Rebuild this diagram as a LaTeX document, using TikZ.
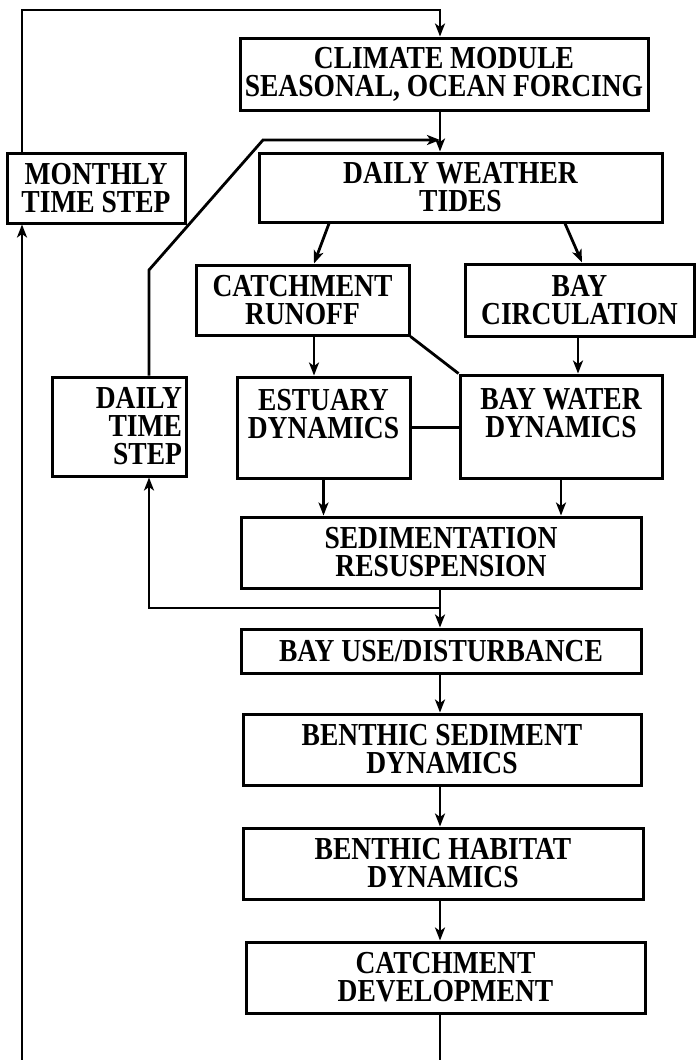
\documentclass[tikz,border=0pt]{standalone}
\usepackage{fontspec}
\setmainfont{Liberation Serif}[FakeStretch=0.86]
\usetikzlibrary{arrows.meta,calc,positioning}
\tikzset{feed/.style={-{Stealth[length=13pt,width=10pt,inset=3.5pt]}, line width=2.8pt},
  link/.style={line width=2.8pt},
  blk/.style={draw, line width=3pt, font=\fontsize{32}{28}\selectfont\bfseries, align=center, inner sep=1pt}}

\begin{document}
\begin{tikzpicture}[x=1pt, y=-1pt]
  \useasboundingbox (0,0) rectangle (698,1060);
  % loop corners
  \coordinate (ltop) at (22,10);
  \coordinate (rtop) at (440,10);
  \coordinate (lbot) at (22,1060);
  \coordinate (rbot) at (440,1060);
  \coordinate (dbend) at (149,270);
  \coordinate (dtop) at (263,140);
  \coordinate (jn) at (440,608);
  % top rows
  \node[blk, minimum width=408pt, minimum height=72pt] (clim) at (444,74) {CLIMATE MODULE\\SEASONAL, OCEAN FORCING};
  \node[blk, minimum width=403pt, minimum height=69pt] (dwx) at (460.5,187.5) {DAILY WEATHER\\TIDES};
  \node[blk, minimum width=178pt, minimum height=70pt] (month) at (96,188) {MONTHLY\\TIME STEP};
  \node[blk, minimum width=213pt, minimum height=70pt] (runoff) at (302.5,300) {CATCHMENT\\RUNOFF};
  \node[blk, minimum width=229pt, minimum height=72pt] (baycirc) at (579.5,300) {BAY\\CIRCULATION};
  % middle row
  \node[blk, align=right, text width=126pt, minimum width=134pt, minimum height=99pt] (tstep) at (119,426.5) {DAILY\\TIME\\STEP};
  \node[blk, minimum width=173pt, minimum height=101pt] (estuary) at (323.5,427.5) {ESTUARY\\DYNAMICS\\\mbox{}};
  \node[blk, minimum width=202pt, minimum height=103pt] (baywater) at (561,426.5) {BAY WATER\\DYNAMICS\\\mbox{}};
  % lower column
  \node[blk, minimum width=400pt, minimum height=71pt] (sedim) at (441,552.5) {SEDIMENTATION\\RESUSPENSION};
  \node[blk, minimum width=400pt, minimum height=44pt] (bayuse) at (441,651) {BAY USE/DISTURBANCE};
  \node[blk, minimum width=398pt, minimum height=71pt] (bsed) at (442,749.5) {BENTHIC SEDIMENT\\DYNAMICS};
  \node[blk, minimum width=400pt, minimum height=71pt] (bhab) at (443,863.5) {BENTHIC HABITAT\\DYNAMICS};
  \node[blk, minimum width=399pt, minimum height=71pt] (cdev) at (445.5,977.5) {CATCHMENT\\DEVELOPMENT};
  % monthly loop
  \draw[feed] (month.north -| ltop) -- (ltop) -- (rtop) -- (clim.north -| rtop);
  \draw[feed] (lbot) -- (month.south -| lbot);
  \draw[link] (cdev.south -| rbot) -- (rbot);
  % daily loop
  \draw[feed] (clim.south -| rtop) -- (dwx.north -| rtop);
  \draw[feed] (tstep.north -| dbend) -- (dbend) -- (dtop) -- (dtop -| rtop);
  \draw[feed] (sedim.south -| jn) -- (jn) -| (tstep.south -| dbend);
  % weather to runoff and circulation
  \draw[feed] ([xshift=-131.5pt]dwx.south) -- ([xshift=11.5pt]runoff.north);
  \draw[feed] ([xshift=104.5pt]dwx.south) -- ([xshift=2.5pt]baycirc.north);
  \draw[feed] ([xshift=11.5pt]runoff.south) -- ([xshift=-9.5pt]estuary.north);
  \draw[link] (runoff.south east) -- (baywater.north west);
  \draw[feed] ([xshift=-1.5pt]baycirc.south) -- ([xshift=17pt]baywater.north);
  \draw[link] (estuary.east) -- (estuary.east -| baywater.west);
  % into sedimentation
  \draw[feed] (estuary.south) -- (estuary.south |- sedim.north);
  \draw[feed] (baywater.south) -- (baywater.south |- sedim.north);
  % main column
  \draw[feed] (jn) -- (bayuse.north -| jn);
  \draw[feed] (bayuse.south -| jn) -- (bsed.north -| jn);
  \draw[feed] (bsed.south -| jn) -- (bhab.north -| jn);
  \draw[feed] (bhab.south -| jn) -- (cdev.north -| jn);
\end{tikzpicture}
\end{document}
